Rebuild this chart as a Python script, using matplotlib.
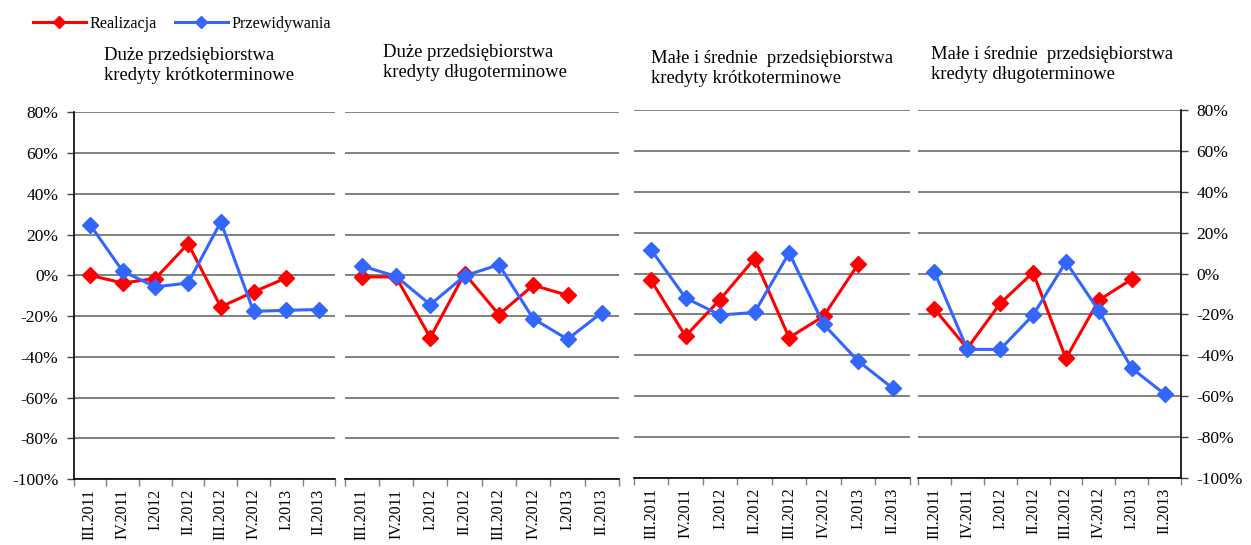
import numpy as np
import matplotlib
matplotlib.use('Agg')
import matplotlib.pyplot as plt
from matplotlib.ticker import FuncFormatter, FixedLocator

plt.rcParams['font.family'] = ['Liberation Serif', 'DejaVu Serif']

# quarters on the x axis
kwartaly = ['III.2011', 'IV.2011', 'I.2012', 'II.2012', 'III.2012', 'IV.2012', 'I.2013', 'II.2013']

tytuly = ['Duże przedsiębiorstwa\nkredyty krótkoterminowe',
          'Duże przedsiębiorstwa\nkredyty długoterminowe',
          'Małe i średnie  przedsiębiorstwa\nkredyty krótkoterminowe',
          'Małe i średnie  przedsiębiorstwa\nkredyty długoterminowe']

# realizacja (7 quarters) and przewidywania (8 quarters), in %
real_duze_krotkie = [0, -3.8, -1.6, 15.5, -15.5, -8.2, -1.3]
przew_duze_krotkie = [24.9, 2.0, -5.7, -3.8, 26.2, -17.7, -17.2, -16.8]

real_duze_dlugie = [-0.8, -0.8, -30.6, 0.8, -19.3, -4.9, -9.8]
przew_duze_dlugie = [4.6, -0.5, -14.4, -0.3, 5.2, -21.3, -31.4, -18.3]

real_msp_krotkie = [-3.3, -30.6, -12.7, 7.3, -31.4, -20.8, 4.6]
przew_msp_krotkie = [11.7, -11.9, -20.3, -19.0, 10.1, -24.9, -42.8, -56.1]

real_msp_dlugie = [-17.4, -36.6, -14.6, 0.5, -41.5, -13.0, -2.8]
przew_msp_dlugie = [0.8, -37.1, -37.1, -20.3, 5.7, -18.2, -46.3, -58.9]

realizacja = [real_duze_krotkie, real_duze_dlugie, real_msp_krotkie, real_msp_dlugie]
przewidywania = [przew_duze_krotkie, przew_duze_dlugie, przew_msp_krotkie, przew_msp_dlugie]

W, H = 1251, 545
fig = plt.figure(figsize=(W / 100, H / 100), dpi=100)

# panel boxes in pixels: left, right, top, bottom
ramki = [(73.6, 335.3, 112.3, 479.0),
         (344.5, 619.0, 112.3, 479.0),
         (633.7, 910.0, 110.0, 478.0),
         (918.0, 1181.0, 110.0, 478.0)]
tytul_pos = [(104, 47), (383, 44), (651, 50), (931, 46)]

CZERWONY = '#ff0000'
NIEBIESKI = '#3366ff'

pct = FuncFormatter(lambda v, p: '%d%%' % v)

for i, (l, r, t, b) in enumerate(ramki):
    ax = fig.add_axes([l / W, 1 - b / H, (r - l) / W, (b - t) / H])
    x = np.arange(len(kwartaly))
    ax.set_xlim(-0.5, len(kwartaly) - 0.5)
    ax.set_ylim(-100, 80)

    ax.plot(x[:len(realizacja[i])], realizacja[i], color=CZERWONY, lw=2.2,
            marker='D', ms=8, label='Realizacja', zorder=3)
    ax.plot(x, przewidywania[i], color=NIEBIESKI, lw=2.2,
            marker='D', ms=8, label='Przewidywania', zorder=4)

    ax.set_yticks(np.arange(-100, 81, 20))
    ax.yaxis.grid(True, color='#777777', lw=1.3)
    ax.set_axisbelow(True)

    for s in ['top', 'left', 'right']:
        ax.spines[s].set_visible(False)
    ax.spines['bottom'].set_color('black')
    ax.spines['bottom'].set_linewidth(1.2)
    ax.spines['bottom'].set_zorder(5)

    if i == 0:
        ax.spines['left'].set_visible(True)
        ax.spines['left'].set_linewidth(1.2)
        ax.yaxis.set_major_formatter(pct)
        ax.tick_params(axis='y', length=5, width=1, color='#404040',
                       labelsize=12.5, pad=6)
    elif i == 3:
        ax.spines['right'].set_visible(True)
        ax.spines['right'].set_linewidth(1.2)
        ax.yaxis.tick_right()
        ax.yaxis.set_major_formatter(pct)
        ax.tick_params(axis='y', length=5, width=1, color='#404040',
                       labelsize=12.5, pad=6)
    else:
        ax.tick_params(axis='y', length=0, labelleft=False)

    # category labels centred, tick marks between categories
    ax.set_xticks(x)
    ax.set_xticklabels(kwartaly, rotation=90, fontsize=11.5)
    ax.tick_params(axis='x', which='major', length=0, pad=7)
    ax.xaxis.set_minor_locator(FixedLocator(np.arange(-0.5, len(kwartaly), 1)))
    ax.tick_params(axis='x', which='minor', length=5, width=1, color='#808080')

    tx, ty = tytul_pos[i]
    fig.text(tx / W, 1 - ty / H, tytuly[i], fontsize=13.4, va='top', ha='left',
             linespacing=1.2)

h, lab = ax.get_legend_handles_labels()
fig.legend(h, lab, loc='upper left', bbox_to_anchor=(18 / W, 1 - 1 / H), ncol=2,
           frameon=False, fontsize=11.6, handlelength=3.3, markerscale=0.75,
           columnspacing=1.1, handletextpad=0.25)

fig.savefig('out.png', dpi=100)
